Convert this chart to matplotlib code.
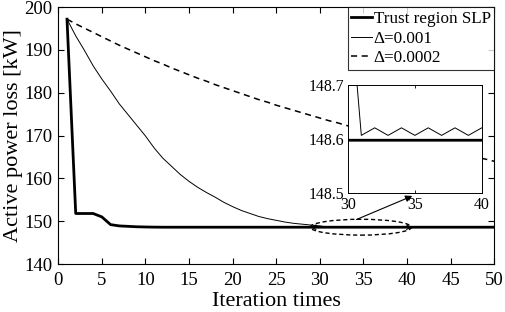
import matplotlib
matplotlib.use('Agg')
import matplotlib.pyplot as plt
from matplotlib.patches import Ellipse
import numpy as np

plt.rcParams['font.family'] = ['Liberation Serif', 'DejaVu Serif']

# iteration index
iters = np.arange(1, 51)

# Trust region SLP
slp = [197.2, 151.8, 151.8, 151.8, 151.0, 149.2, 148.9, 148.8, 148.7, 148.65,
       148.62] + [148.598] * 39

# fixed step 0.001
d001 = [197.2, 193.3, 189.9, 186.3, 183.2, 180.4, 177.4, 174.9, 172.4, 169.9,
        167.1, 164.7, 162.8, 160.9, 159.3, 157.9, 156.7, 155.6, 154.4, 153.4,
        152.5, 151.8, 151.1, 150.6, 150.2, 149.8, 149.5, 149.3, 149.1, 148.9,
        148.607, 148.621, 148.607, 148.621, 148.607, 148.621, 148.607, 148.621,
        148.607, 148.621, 148.607, 148.621, 148.607, 148.621, 148.607, 148.621,
        148.607, 148.621, 148.607, 148.621]

# fixed step 0.0002
d0002 = [197.2, 196.1, 195.1, 194.1, 193.1, 192.1, 191.1, 190.2, 189.3, 188.4,
         187.5, 186.7, 185.8, 185.0, 184.2, 183.4, 182.7, 181.9, 181.2, 180.5,
         179.8, 179.1, 178.4, 177.8, 177.1, 176.5, 175.9, 175.3, 174.7, 174.1,
         173.5, 173.0, 172.4, 171.8, 171.3, 170.7, 170.2, 169.7, 169.2, 168.6,
         168.2, 167.7, 167.2, 166.7, 166.3, 165.8, 165.4, 164.9, 164.5, 164.0]

labels = ['Trust region SLP', 'Δ=0.001', 'Δ=0.0002']

fig = plt.figure(figsize=(5.05, 3.12), dpi=100)
ax = fig.add_axes([0.1154, 0.1538, 0.8634, 0.8232])

ax.plot(iters, slp, color='black', lw=2.0, label=labels[0])
ax.plot(iters, d001, color='black', lw=0.7, label=labels[1])
ax.plot(iters, d0002, color='black', lw=1.1, ls=(0, (4, 3)), label=labels[2])

ax.set_xlim(0, 50)
ax.set_ylim(140, 200)
ax.set_xticks(np.arange(0, 51, 5))
ax.set_yticks(np.arange(140, 201, 10))
ax.tick_params(direction='in', top=True, right=True, labelsize=13.5,
               length=4, width=0.8)
ax.tick_params(axis='x', pad=6)
ax.tick_params(axis='y', pad=4)
for s in ax.spines.values():
    s.set_linewidth(0.8)
ax.set_xlabel('Iteration times', fontsize=16, labelpad=2)
ax.set_ylabel('Active power loss [kW]', fontsize=16, labelpad=1)

leg = ax.legend(loc='upper right', fontsize=12.3, frameon=True, fancybox=False,
                edgecolor='black', borderaxespad=0, handlelength=1.2,
                handletextpad=0.1, labelspacing=0.22, borderpad=0.22)
leg.get_frame().set_linewidth(0.8)

# dashed ellipse marking the zoomed region
ax.add_patch(Ellipse((34.7, 148.6), 11.6, 3.7, fill=False, ls=(0, (3, 2)),
                     lw=1.0, color='black'))
ax.annotate('', xy=(40.6, 148.6), xytext=(28.9, 148.6),
            arrowprops=dict(arrowstyle='<->', lw=0.8, color='black',
                            shrinkA=0, shrinkB=0, mutation_scale=8))
ax.annotate('', xy=(40.6, 155.9), xytext=(34.2, 150.4),
            arrowprops=dict(arrowstyle='-|>', lw=0.8, color='black',
                            shrinkA=0, shrinkB=0, mutation_scale=10))

# inset
ins = fig.add_axes([0.689, 0.381, 0.265, 0.346])
ins.plot(iters, slp, color='black', lw=2.0)
ins.plot(iters, d001, color='black', lw=0.7)
ins.set_xlim(30, 40)
ins.set_ylim(148.5, 148.7)
ins.set_xticks([30, 35, 40])
ins.set_yticks([148.5, 148.6, 148.7])
ins.set_yticklabels(['148.5', '148.6', '148.7'])
ins.tick_params(direction='in', top=True, right=True, labelsize=11.4,
                length=2, width=0.6, pad=3)
for s in ins.spines.values():
    s.set_linewidth(0.7)

fig.savefig('out.png', dpi=100)
